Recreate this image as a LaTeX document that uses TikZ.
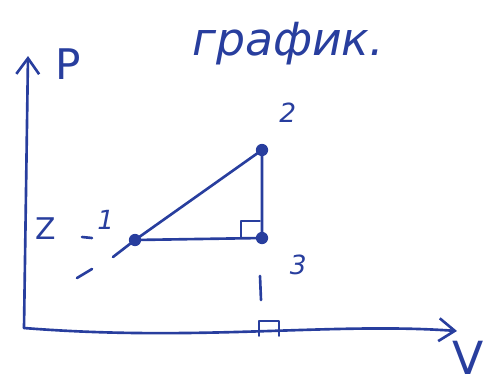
\documentclass[tikz,border=0pt]{standalone}
\usepackage{fontspec}
\setmainfont{DejaVu Sans}
\usetikzlibrary{arrows.meta,positioning}
\definecolor{ink}{RGB}{40,62,158}

\begin{document}
\begin{tikzpicture}[
    x=0.02cm, y=-0.02cm,
    pen/.style={draw=ink, line width=1.5pt, line cap=round, line join=round},
    axis/.style={pen, -{Straight Barb[length=9pt, width=13pt]}},
    dot/.style={circle, fill=ink, inner sep=0pt, minimum size=7pt},
    lbl/.style={text=ink, inner sep=1pt, font=\fontsize{15}{15}\selectfont\itshape},
    title/.style={text=ink, font=\fontsize{26}{26}\selectfont\itshape},
]
    \useasboundingbox (0,0) rectangle (497,389);

    % axes
    \coordinate (O) at (24,328);
    \coordinate (ptop) at (28,56);
    \coordinate (vend) at (457,331);
    \draw [axis] (O) -- (ptop);
    \draw [axis] (O) .. controls (200,342) and (330,322) .. (vend);
    \node [text=ink, font=\fontsize{24}{24}\selectfont] (plbl) at (68,64) {P};
    \node [text=ink, font=\fontsize{26}{26}\selectfont] (vlbl) at (468,358) {V};
    \node [title] (ttl) at (288,44) {график.};

    % states
    \node [dot] (s1) at (135,240) {};
    \node [dot] (s2) at (262,150) {};
    \node [dot] (s3) at (262,238) {};
    \node [lbl, above left=2pt and 8pt of s1] (l1) {1};
    \node [lbl, above right=12pt and 6pt of s2] (l2) {2};
    \node [lbl, below right=6pt and 12pt of s3] (l3) {3};

    \draw [pen] (s1.center) -- (s2.center) -- (s3.center) -- cycle;

    % right angle at 3
    \draw [pen, line width=1.1pt] (241,238) -- (241,221) -- (260,221);

    % guide marks
    \coordinate (d1a) at (82,237);
    \coordinate (d1b) at (92,238);
    \coordinate (d2a) at (113,257);
    \coordinate (d3a) at (77,278);
    \coordinate (d3b) at (92,269);
    \draw [pen] (d1a) -- (d1b);
    \draw [pen] (s1.center) -- (d2a);
    \draw [pen] (d3a) -- (d3b);
    \node [text=ink, font=\fontsize{17}{17}\selectfont] (ptick) at (46,229) {Z};

    \coordinate (d4a) at (260,276);
    \coordinate (d4b) at (261,300);
    \draw [pen] (d4a) -- (d4b);
    \draw [pen, line width=1.1pt] (259,336) -- (259,321) -- (279,321) -- (279,336);
\end{tikzpicture}
\end{document}
